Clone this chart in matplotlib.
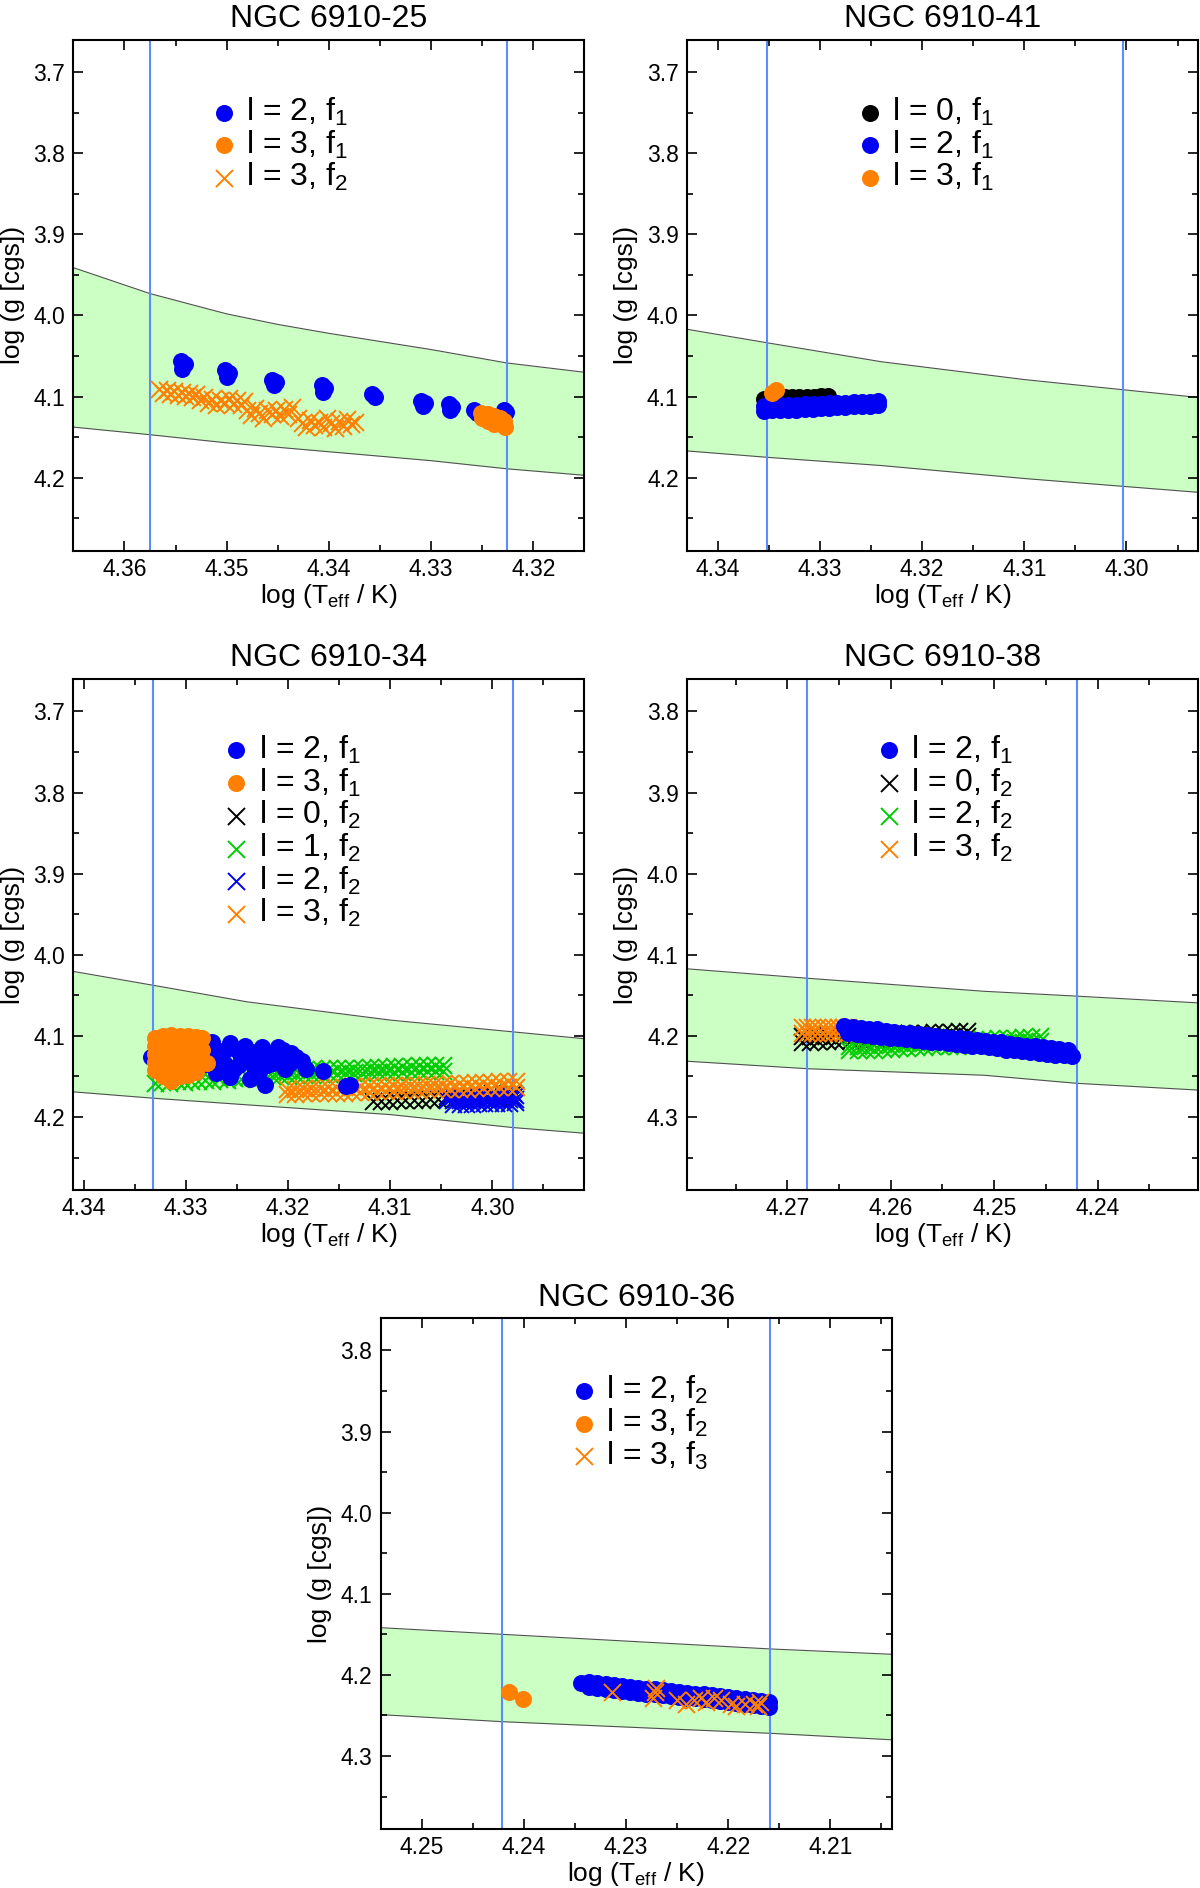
import matplotlib
matplotlib.use("Agg")
import matplotlib.pyplot as plt
from matplotlib.ticker import MultipleLocator, FormatStrFormatter

plt.rcParams['font.family'] = ['Liberation Sans', 'DejaVu Sans']
plt.rcParams['mathtext.default'] = 'regular'

BLUE = '#0000f5'
ORANGE = '#ff8000'
GREEN = '#00cc00'
BLACK = '#000000'
VLINE = '#5b8cff'
BAND = '#ccffc4'

# ---------------- NGC 6910-25 ----------------
p25_band_T = [4.365, 4.3575, 4.350, 4.345, 4.340, 4.330, 4.3226, 4.315]
p25_band_up = [3.941, 3.973, 3.998, 4.011, 4.022, 4.042, 4.0585, 4.070]
p25_band_lo = [4.1376, 4.147, 4.157, 4.1625, 4.168, 4.179, 4.189, 4.197]
p25_vlines = [4.3575, 4.3226]

p25_l2f1_T = [4.3545, 4.3541, 4.3544, 4.3502, 4.3498, 4.3500, 4.3456, 4.3452, 4.3454,
              4.3407, 4.3404, 4.3406, 4.3358, 4.3355, 4.3310, 4.3306, 4.3308,
              4.3282, 4.3279, 4.3281, 4.3258, 4.3255, 4.3229, 4.3227]
p25_l2f1_g = [4.056, 4.060, 4.066, 4.067, 4.071, 4.076, 4.079, 4.082, 4.086,
              4.086, 4.090, 4.094, 4.097, 4.100, 4.106, 4.108, 4.111,
              4.109, 4.113, 4.116, 4.116, 4.120, 4.117, 4.119]

p25_l3f1_T = [4.3251, 4.3248, 4.3245, 4.3242, 4.3239, 4.3236, 4.3233, 4.3230, 4.3228,
              4.3244, 4.3238, 4.3232, 4.3229, 4.3250, 4.3244, 4.3238]
p25_l3f1_g = [4.120, 4.123, 4.125, 4.127, 4.129, 4.131, 4.133, 4.135, 4.137,
              4.121, 4.124, 4.127, 4.130, 4.126, 4.130, 4.134]

p25_l3f2_T = [4.3566, 4.3562, 4.3558, 4.3555, 4.3551, 4.3548, 4.3544, 4.3541, 4.3537, 4.3534, 4.3530,
              4.3526, 4.3522, 4.3518, 4.3514, 4.3510, 4.3506, 4.3502, 4.3498, 4.3494, 4.3490, 4.3486, 4.3483,
              4.3480, 4.3476, 4.3472, 4.3468, 4.3464, 4.3460, 4.3456, 4.3452, 4.3448, 4.3444, 4.3440, 4.3436,
              4.3430, 4.3426, 4.3422, 4.3418, 4.3414, 4.3410, 4.3406, 4.3402, 4.3398, 4.3394, 4.3390,
              4.3386, 4.3382, 4.3378, 4.3374]
p25_l3f2_g = [4.091, 4.095, 4.092, 4.097, 4.093, 4.098, 4.094, 4.099, 4.095, 4.100, 4.097,
              4.104, 4.100, 4.108, 4.103, 4.110, 4.104, 4.108, 4.102, 4.109, 4.104, 4.110, 4.106,
              4.117, 4.123, 4.114, 4.120, 4.126, 4.116, 4.122, 4.117, 4.124, 4.115, 4.121, 4.113,
              4.126, 4.132, 4.138, 4.129, 4.135, 4.131, 4.137, 4.127, 4.133, 4.139, 4.130,
              4.136, 4.128, 4.134, 4.131]

# ---------------- NGC 6910-41 ----------------
p41_band_T = [4.343, 4.335, 4.324, 4.310, 4.300, 4.293]
p41_band_up = [4.017, 4.034, 4.057, 4.079, 4.092, 4.101]
p41_band_lo = [4.167, 4.175, 4.185, 4.201, 4.211, 4.218]
p41_vlines = [4.3352, 4.3003]

p41_l0f1_T = [4.3355, 4.3348, 4.3341, 4.3334, 4.3327, 4.3320, 4.3313, 4.3306, 4.3299, 4.3292]
p41_l0f1_g = [4.103, 4.102, 4.102, 4.101, 4.101, 4.100, 4.100, 4.100, 4.099, 4.099]

p41_l2f1_T = [4.3355, 4.3347, 4.3339, 4.3331, 4.3323, 4.3315, 4.3307, 4.3299, 4.3291, 4.3283,
              4.3275, 4.3267, 4.3259, 4.3251, 4.3243,
              4.3355, 4.3347, 4.3339, 4.3331, 4.3323, 4.3315, 4.3307, 4.3299, 4.3291, 4.3283,
              4.3275, 4.3267, 4.3259, 4.3251, 4.3243]
p41_l2f1_g = [4.111, 4.111, 4.110, 4.110, 4.110, 4.109, 4.109, 4.109, 4.108, 4.108,
              4.108, 4.107, 4.107, 4.107, 4.106,
              4.118, 4.117, 4.117, 4.116, 4.116, 4.115, 4.115, 4.114, 4.114, 4.113,
              4.113, 4.112, 4.112, 4.111, 4.110]

p41_l3f1_T = [4.3347, 4.3343]
p41_l3f1_g = [4.096, 4.092]

# ---------------- NGC 6910-34 ----------------
p34_band_T = [4.341, 4.333, 4.324, 4.310, 4.298, 4.291]
p34_band_up = [4.0205, 4.038, 4.058, 4.0805, 4.095, 4.1035]
p34_band_lo = [4.169, 4.177, 4.185, 4.197, 4.213, 4.220]
p34_vlines = [4.3332, 4.2980]

p34_l2f1_T = [4.3334, 4.3280, 4.3274, 4.3265, 4.3270, 4.3257, 4.3253, 4.3257, 4.3246, 4.3242,
              4.3237, 4.3227, 4.3225, 4.3222, 4.3220, 4.3212, 4.3210, 4.3203, 4.3197, 4.3186,
              4.3182, 4.3166, 4.3143, 4.3139,
              4.3275, 4.3262, 4.3250, 4.3235, 4.3222, 4.3205, 4.3192, 4.3262, 4.3248, 4.3232,
              4.3215, 4.3280, 4.3268, 4.3240, 4.3228, 4.3198]
p34_l2f1_g = [4.126, 4.1215, 4.107, 4.124, 4.146, 4.109, 4.141, 4.151, 4.126, 4.112,
              4.153, 4.131, 4.114, 4.160, 4.136, 4.126, 4.114, 4.141, 4.1215, 4.131,
              4.141, 4.1435, 4.162, 4.160,
              4.115, 4.117, 4.118, 4.120, 4.122, 4.118, 4.126, 4.135, 4.136, 4.142,
              4.133, 4.135, 4.128, 4.130, 4.145, 4.134]

p34_l3f1_T = [4.3330, 4.3330, 4.3330, 4.3330, 4.3330,
              4.3322, 4.3322, 4.3322, 4.3322, 4.3322, 4.3322,
              4.3314, 4.3314, 4.3314, 4.3314, 4.3314, 4.3314, 4.3314,
              4.3306, 4.3306, 4.3306, 4.3306, 4.3306, 4.3306,
              4.3298, 4.3298, 4.3298, 4.3298, 4.3298, 4.3298,
              4.3290, 4.3290, 4.3290, 4.3290, 4.3290,
              4.3284, 4.3284, 4.3279]
p34_l3f1_g = [4.102, 4.112, 4.122, 4.132, 4.142,
              4.100, 4.110, 4.120, 4.130, 4.140, 4.150,
              4.099, 4.109, 4.119, 4.129, 4.139, 4.149, 4.156,
              4.100, 4.110, 4.120, 4.130, 4.140, 4.150,
              4.100, 4.110, 4.120, 4.130, 4.140, 4.148,
              4.101, 4.112, 4.124, 4.136, 4.145,
              4.103, 4.118, 4.134]

p34_l0f2_T = [4.3117, 4.3109, 4.3101, 4.3093, 4.3085, 4.3077, 4.3069, 4.3061, 4.3053, 4.3045,
              4.3037, 4.3029, 4.3021, 4.3013, 4.3005, 4.2997, 4.2989, 4.2981,
              4.3000, 4.2990, 4.2980]
p34_l0f2_g = [4.180, 4.180, 4.180, 4.179, 4.179, 4.179, 4.179, 4.178, 4.178, 4.178,
              4.178, 4.177, 4.177, 4.177, 4.177, 4.176, 4.176, 4.176,
              4.171, 4.170, 4.170]

p34_l1f2_T = [4.3330, 4.3323, 4.3316, 4.3309, 4.3302, 4.3295, 4.3288, 4.3281, 4.3274, 4.3267,
              4.3260, 4.3253, 4.3246, 4.3239, 4.3232, 4.3225,
              4.3224, 4.3216, 4.3208, 4.3200, 4.3192, 4.3184, 4.3176, 4.3168, 4.3160, 4.3152,
              4.3144, 4.3136, 4.3128, 4.3120, 4.3112, 4.3104, 4.3096, 4.3088, 4.3080, 4.3072,
              4.3064, 4.3056, 4.3048,
              4.3224, 4.3216, 4.3208, 4.3200, 4.3192, 4.3184, 4.3176, 4.3168, 4.3160, 4.3152,
              4.3144, 4.3136, 4.3128, 4.3120, 4.3112, 4.3104, 4.3096, 4.3088, 4.3080, 4.3072,
              4.3064, 4.3056, 4.3048]
p34_l1f2_g = [4.158, 4.157, 4.158, 4.156, 4.157, 4.155, 4.156, 4.154, 4.155, 4.153,
              4.154, 4.152, 4.153, 4.151, 4.152, 4.150,
              4.144, 4.144, 4.143, 4.143, 4.142, 4.142, 4.141, 4.141, 4.140, 4.140,
              4.139, 4.139, 4.139, 4.138, 4.138, 4.138, 4.137, 4.137, 4.137, 4.136,
              4.136, 4.136, 4.136,
              4.150, 4.150, 4.149, 4.149, 4.148, 4.148, 4.148, 4.147, 4.147, 4.147,
              4.146, 4.146, 4.146, 4.145, 4.145, 4.145, 4.144, 4.144, 4.144, 4.143,
              4.143, 4.143, 4.143]

p34_l2f2_T = [4.3044, 4.3038, 4.3032, 4.3026, 4.3020, 4.3014, 4.3008, 4.3002, 4.2996, 4.2990,
              4.2984, 4.2978,
              4.3044, 4.3038, 4.3032, 4.3026, 4.3020, 4.3014, 4.3008, 4.3002, 4.2996, 4.2990,
              4.2984, 4.2978,
              4.3038, 4.3032, 4.3026, 4.3020, 4.3014, 4.3008, 4.3002, 4.2996, 4.2990, 4.2984,
              4.2978]
p34_l2f2_g = [4.174, 4.174, 4.174, 4.174, 4.174, 4.174, 4.173, 4.173, 4.173, 4.173,
              4.173, 4.173,
              4.179, 4.179, 4.179, 4.179, 4.179, 4.179, 4.178, 4.178, 4.178, 4.178,
              4.178, 4.178,
              4.184, 4.184, 4.184, 4.184, 4.183, 4.183, 4.183, 4.183, 4.183, 4.183,
              4.182]

p34_l3f2_T = [4.3201, 4.3193, 4.3185, 4.3177, 4.3169, 4.3161, 4.3153, 4.3145, 4.3137, 4.3129,
              4.3121, 4.3113, 4.3105, 4.3097, 4.3089, 4.3081, 4.3073, 4.3065, 4.3057, 4.3049,
              4.3041, 4.3033, 4.3025, 4.3017, 4.3009, 4.3001, 4.2993, 4.2985, 4.2977,
              4.3201, 4.3193, 4.3185, 4.3177, 4.3169, 4.3161, 4.3153, 4.3145, 4.3137, 4.3129,
              4.3121, 4.3113, 4.3105, 4.3097, 4.3089, 4.3081, 4.3073, 4.3065, 4.3057, 4.3049,
              4.3041, 4.3033, 4.3025, 4.3017, 4.3009, 4.3001, 4.2993, 4.2985, 4.2977]
p34_l3f2_g = [4.165, 4.165, 4.164, 4.164, 4.164, 4.163, 4.163, 4.163, 4.162, 4.162,
              4.162, 4.161, 4.161, 4.161, 4.160, 4.160, 4.160, 4.159, 4.159, 4.159,
              4.158, 4.158, 4.158, 4.157, 4.157, 4.157, 4.156, 4.156, 4.156,
              4.172, 4.172, 4.171, 4.171, 4.171, 4.170, 4.170, 4.170, 4.169, 4.169,
              4.169, 4.168, 4.168, 4.168, 4.167, 4.167, 4.167, 4.166, 4.166, 4.166,
              4.165, 4.165, 4.165, 4.164, 4.164, 4.164, 4.163, 4.163, 4.163]

# ---------------- NGC 6910-38 ----------------
p38_band_T = [4.280, 4.268, 4.251, 4.242, 4.230]
p38_band_up = [4.117, 4.129, 4.145, 4.151, 4.1595]
p38_band_lo = [4.231, 4.2405, 4.2485, 4.2585, 4.267]
p38_vlines = [4.2681, 4.2420]

p38_l2f1_T = [4.2645, 4.2637, 4.2629, 4.2621, 4.2613, 4.2605, 4.2597, 4.2589, 4.2581, 4.2573,
              4.2565, 4.2557, 4.2549, 4.2541, 4.2533, 4.2525, 4.2517, 4.2509, 4.2501, 4.2493,
              4.2485, 4.2477, 4.2469, 4.2461, 4.2453, 4.2445, 4.2437, 4.2429,
              4.2641, 4.2633, 4.2625, 4.2617, 4.2609, 4.2601, 4.2593, 4.2585, 4.2577, 4.2569,
              4.2561, 4.2553, 4.2545, 4.2537, 4.2529, 4.2521, 4.2513, 4.2505, 4.2497, 4.2489,
              4.2481, 4.2473, 4.2465, 4.2457, 4.2449, 4.2441, 4.2433, 4.2425]
p38_l2f1_g = [4.188, 4.189, 4.190, 4.192, 4.192, 4.194, 4.195, 4.196, 4.197, 4.198,
              4.199, 4.200, 4.201, 4.202, 4.203, 4.204, 4.205, 4.206, 4.207, 4.208,
              4.210, 4.211, 4.212, 4.213, 4.214, 4.215, 4.216, 4.217,
              4.197, 4.198, 4.199, 4.200, 4.201, 4.202, 4.203, 4.204, 4.205, 4.206,
              4.207, 4.208, 4.209, 4.210, 4.211, 4.212, 4.213, 4.214, 4.215, 4.217,
              4.218, 4.219, 4.220, 4.221, 4.222, 4.223, 4.224, 4.225]

p38_l0f2_T = [4.2686, 4.2678, 4.2670, 4.2662, 4.2654, 4.2646, 4.2638, 4.2630, 4.2622, 4.2614,
              4.2606, 4.2598, 4.2590, 4.2582, 4.2574, 4.2566, 4.2558, 4.2550, 4.2542, 4.2534,
              4.2526,
              4.2686, 4.2678, 4.2670, 4.2662, 4.2654, 4.2646, 4.2638, 4.2630, 4.2622, 4.2614,
              4.2606, 4.2598, 4.2590, 4.2582, 4.2574, 4.2566, 4.2558, 4.2550, 4.2542, 4.2534,
              4.2526]
p38_l0f2_g = [4.200, 4.200, 4.200, 4.199, 4.199, 4.199, 4.198, 4.198, 4.198, 4.197,
              4.197, 4.197, 4.197, 4.196, 4.196, 4.196, 4.195, 4.195, 4.195, 4.194,
              4.194,
              4.207, 4.207, 4.206, 4.206, 4.206, 4.205, 4.205, 4.205, 4.204, 4.204,
              4.204, 4.203, 4.203, 4.203, 4.202, 4.202, 4.202, 4.201, 4.201, 4.201,
              4.200]

p38_l2f2_T = [4.2640, 4.2632, 4.2624, 4.2616, 4.2608, 4.2600, 4.2592, 4.2584, 4.2576, 4.2568,
              4.2560, 4.2552, 4.2544, 4.2536, 4.2528, 4.2520, 4.2512, 4.2504, 4.2496, 4.2488,
              4.2480, 4.2472, 4.2464, 4.2456,
              4.2640, 4.2632, 4.2624, 4.2616, 4.2608, 4.2600, 4.2592, 4.2584, 4.2576, 4.2568,
              4.2560, 4.2552, 4.2544, 4.2536, 4.2528, 4.2520, 4.2512, 4.2504, 4.2496, 4.2488,
              4.2480, 4.2472, 4.2464, 4.2456]
p38_l2f2_g = [4.212, 4.212, 4.211, 4.211, 4.210, 4.210, 4.209, 4.209, 4.208, 4.208,
              4.207, 4.207, 4.206, 4.206, 4.205, 4.205, 4.204, 4.204, 4.203, 4.203,
              4.202, 4.201, 4.201, 4.200,
              4.218, 4.218, 4.217, 4.217, 4.216, 4.216, 4.215, 4.215, 4.214, 4.214,
              4.213, 4.213, 4.212, 4.212, 4.211, 4.211, 4.210, 4.210, 4.209, 4.209,
              4.208, 4.207, 4.207, 4.206]

p38_l3f2_T = [4.2686, 4.2681, 4.2676, 4.2671, 4.2666, 4.2661, 4.2656, 4.2651, 4.2646, 4.2641,
              4.2686, 4.2681, 4.2676, 4.2671, 4.2666, 4.2661, 4.2656, 4.2651, 4.2646, 4.2641]
p38_l3f2_g = [4.189, 4.189, 4.189, 4.189, 4.189, 4.189, 4.189, 4.189, 4.189, 4.189,
              4.196, 4.196, 4.196, 4.196, 4.196, 4.196, 4.196, 4.196, 4.196, 4.196]

# ---------------- NGC 6910-36 ----------------
p36_band_T = [4.254, 4.2421, 4.2159, 4.204]
p36_band_up = [4.1418, 4.150, 4.168, 4.1746]
p36_band_lo = [4.249, 4.2577, 4.272, 4.280]
p36_vlines = [4.2421, 4.2159]

p36_l2f2_T = [4.2344, 4.2336, 4.2328, 4.2320, 4.2312, 4.2304, 4.2296, 4.2288, 4.2280, 4.2272,
              4.2264, 4.2256, 4.2248, 4.2240, 4.2232, 4.2224, 4.2216, 4.2208, 4.2200, 4.2192,
              4.2184, 4.2176, 4.2168, 4.2160,
              4.2336, 4.2328, 4.2320, 4.2312, 4.2304, 4.2296, 4.2288, 4.2280, 4.2272,
              4.2264, 4.2256, 4.2248, 4.2240, 4.2232, 4.2224, 4.2216, 4.2208, 4.2200, 4.2192,
              4.2184, 4.2176, 4.2168, 4.2160]
p36_l2f2_g = [4.210, 4.209, 4.210, 4.211, 4.213, 4.214, 4.215, 4.216, 4.217, 4.218,
              4.219, 4.220, 4.221, 4.222, 4.223, 4.224, 4.225, 4.226, 4.227, 4.229,
              4.230, 4.231, 4.232, 4.233,
              4.215, 4.216, 4.217, 4.219, 4.220, 4.221, 4.222, 4.223, 4.224,
              4.225, 4.226, 4.227, 4.228, 4.229, 4.230, 4.231, 4.232, 4.233, 4.235,
              4.236, 4.237, 4.238, 4.239]

p36_l3f2_T = [4.2414, 4.2401]
p36_l3f2_g = [4.221, 4.2298]

p36_l3f3_T = [4.2314, 4.2272, 4.2274, 4.2271, 4.2250, 4.2241, 4.2233, 4.2227, 4.2222,
              4.2214, 4.2207, 4.2197, 4.2192, 4.2184, 4.2175, 4.2169, 4.2171]
p36_l3f3_g = [4.221, 4.221, 4.2284, 4.2161, 4.2308, 4.2357, 4.2308, 4.2284, 4.2333,
              4.2284, 4.2308, 4.2357, 4.2381, 4.2357, 4.2357, 4.2333, 4.2381]

# ---------------- figure ----------------
fig = plt.figure(figsize=(12, 18.88), dpi=100)
AW, AH = 511 / 1200, 511 / 1888

panels = [
    dict(title='NGC 6910-25', pos=(73.3, 550.7), xlim=(4.365, 4.315), ylim=(4.29, 3.66),
         band=(p25_band_T, p25_band_up, p25_band_lo), vlines=p25_vlines, leg=(0.295, 0.855),
         series=[('l2f1', p25_l2f1_T, p25_l2f1_g, 'o', BLUE, r'l = 2, f$_1$'),
                 ('l3f1', p25_l3f1_T, p25_l3f1_g, 'o', ORANGE, r'l = 3, f$_1$'),
                 ('l3f2', p25_l3f2_T, p25_l3f2_g, 'x', ORANGE, r'l = 3, f$_2$')],
         draw=['l2f1', 'l3f2', 'l3f1'],
         order=['l2f1', 'l3f1', 'l3f2']),
    dict(title='NGC 6910-41', pos=(687, 550.7), xlim=(4.343, 4.293), ylim=(4.29, 3.66),
         band=(p41_band_T, p41_band_up, p41_band_lo), vlines=p41_vlines, leg=(0.358, 0.855),
         series=[('l0f1', p41_l0f1_T, p41_l0f1_g, 'o', BLACK, r'l = 0, f$_1$'),
                 ('l2f1', p41_l2f1_T, p41_l2f1_g, 'o', BLUE, r'l = 2, f$_1$'),
                 ('l3f1', p41_l3f1_T, p41_l3f1_g, 'o', ORANGE, r'l = 3, f$_1$')],
         draw=['l0f1', 'l2f1', 'l3f1'],
         order=['l0f1', 'l2f1', 'l3f1']),
    dict(title='NGC 6910-34', pos=(73.3, 1190), xlim=(4.341, 4.291), ylim=(4.29, 3.66),
         band=(p34_band_T, p34_band_up, p34_band_lo), vlines=p34_vlines, leg=(0.319, 0.858),
         series=[('l2f1', p34_l2f1_T, p34_l2f1_g, 'o', BLUE, r'l = 2, f$_1$'),
                 ('l3f1', p34_l3f1_T, p34_l3f1_g, 'o', ORANGE, r'l = 3, f$_1$'),
                 ('l0f2', p34_l0f2_T, p34_l0f2_g, 'x', BLACK, r'l = 0, f$_2$'),
                 ('l1f2', p34_l1f2_T, p34_l1f2_g, 'x', GREEN, r'l = 1, f$_2$'),
                 ('l2f2', p34_l2f2_T, p34_l2f2_g, 'x', BLUE, r'l = 2, f$_2$'),
                 ('l3f2', p34_l3f2_T, p34_l3f2_g, 'x', ORANGE, r'l = 3, f$_2$')],
         draw=['l1f2', 'l0f2', 'l2f2', 'l3f2', 'l2f1', 'l3f1'],
         order=['l2f1', 'l3f1', 'l0f2', 'l1f2', 'l2f2', 'l3f2']),
    dict(title='NGC 6910-38', pos=(687, 1190), xlim=(4.2797, 4.2303), ylim=(4.39, 3.76),
         band=(p38_band_T, p38_band_up, p38_band_lo), vlines=p38_vlines, leg=(0.395, 0.858),
         series=[('l2f1', p38_l2f1_T, p38_l2f1_g, 'o', BLUE, r'l = 2, f$_1$'),
                 ('l0f2', p38_l0f2_T, p38_l0f2_g, 'x', BLACK, r'l = 0, f$_2$'),
                 ('l2f2', p38_l2f2_T, p38_l2f2_g, 'x', GREEN, r'l = 2, f$_2$'),
                 ('l3f2', p38_l3f2_T, p38_l3f2_g, 'x', ORANGE, r'l = 3, f$_2$')],
         draw=['l0f2', 'l2f2', 'l3f2', 'l2f1'],
         order=['l2f1', 'l0f2', 'l2f2', 'l3f2']),
    dict(title='NGC 6910-36', pos=(380.7, 1829), xlim=(4.254, 4.204), ylim=(4.39, 3.76),
         band=(p36_band_T, p36_band_up, p36_band_lo), vlines=p36_vlines, leg=(0.398, 0.855),
         series=[('l2f2', p36_l2f2_T, p36_l2f2_g, 'o', BLUE, r'l = 2, f$_2$'),
                 ('l3f2', p36_l3f2_T, p36_l3f2_g, 'o', ORANGE, r'l = 3, f$_2$'),
                 ('l3f3', p36_l3f3_T, p36_l3f3_g, 'x', ORANGE, r'l = 3, f$_3$')],
         draw=['l2f2', 'l3f2', 'l3f3'],
         order=['l2f2', 'l3f2', 'l3f3']),
]

LEG_FS = 23
HANDLE_LEN = 0.8

for p in panels:
    x0, ybot = p['pos']
    ax = fig.add_axes([x0 / 1200, (1888 - ybot) / 1888, AW, AH])
    bT, bu, bl = p['band']
    ax.fill_between(bT, bu, bl, color=BAND, lw=0, zorder=0.5)
    ax.plot(bT, bu, color='#505050', lw=0.8, zorder=0.6)
    ax.plot(bT, bl, color='#505050', lw=0.8, zorder=0.6)
    for v in p['vlines']:
        ax.axvline(v, color=VLINE, lw=1.5, zorder=1)
    handles = {}
    for z, key in enumerate(p['draw']):
        for (k, T, g, m, c, lab) in p['series']:
            if k != key:
                continue
            if m == 'o':
                h = ax.scatter(T, g, s=150, marker='o', color=c, linewidths=0,
                               label=lab, zorder=2 + z)
            else:
                h = ax.scatter(T, g, s=150, marker='x', color=c, linewidths=1.4,
                               label=lab, zorder=2 + z)
            handles[k] = h
    ax.set_xlim(*p['xlim'])
    ax.set_ylim(*p['ylim'])
    ax.xaxis.set_major_locator(MultipleLocator(0.01))
    ax.xaxis.set_minor_locator(MultipleLocator(0.005))
    ax.yaxis.set_major_locator(MultipleLocator(0.1))
    ax.yaxis.set_minor_locator(MultipleLocator(0.05))
    ax.xaxis.set_major_formatter(FormatStrFormatter('%.2f'))
    ax.yaxis.set_major_formatter(FormatStrFormatter('%.1f'))
    ax.tick_params(which='both', direction='in', top=True, right=True, width=1.2)
    ax.tick_params(which='major', length=7, labelsize=16.5)
    ax.tick_params(which='minor', length=4)
    ax.tick_params(axis='x', pad=5)
    ax.tick_params(axis='y', pad=6)
    for s in ax.spines.values():
        s.set_linewidth(1.5)
    ax.set_title(p['title'], fontsize=23, pad=9)
    ax.set_xlabel(r'log (T$_{eff}$ / K)', fontsize=19, labelpad=1)
    ax.set_ylabel('log (g [cgs])', fontsize=19, labelpad=6)
    lx, ly = p['leg']
    hoff = HANDLE_LEN * LEG_FS / 72 * 100 / 2 / 511
    ax.legend(handles=[handles[k] for k in p['order']], loc='upper left',
              bbox_to_anchor=(lx - hoff, ly + 0.035), fontsize=LEG_FS, frameon=False,
              handlelength=HANDLE_LEN, handletextpad=0.3, labelspacing=0.02,
              borderpad=0, borderaxespad=0, scatterpoints=1)

fig.savefig('out.png', dpi=100)
